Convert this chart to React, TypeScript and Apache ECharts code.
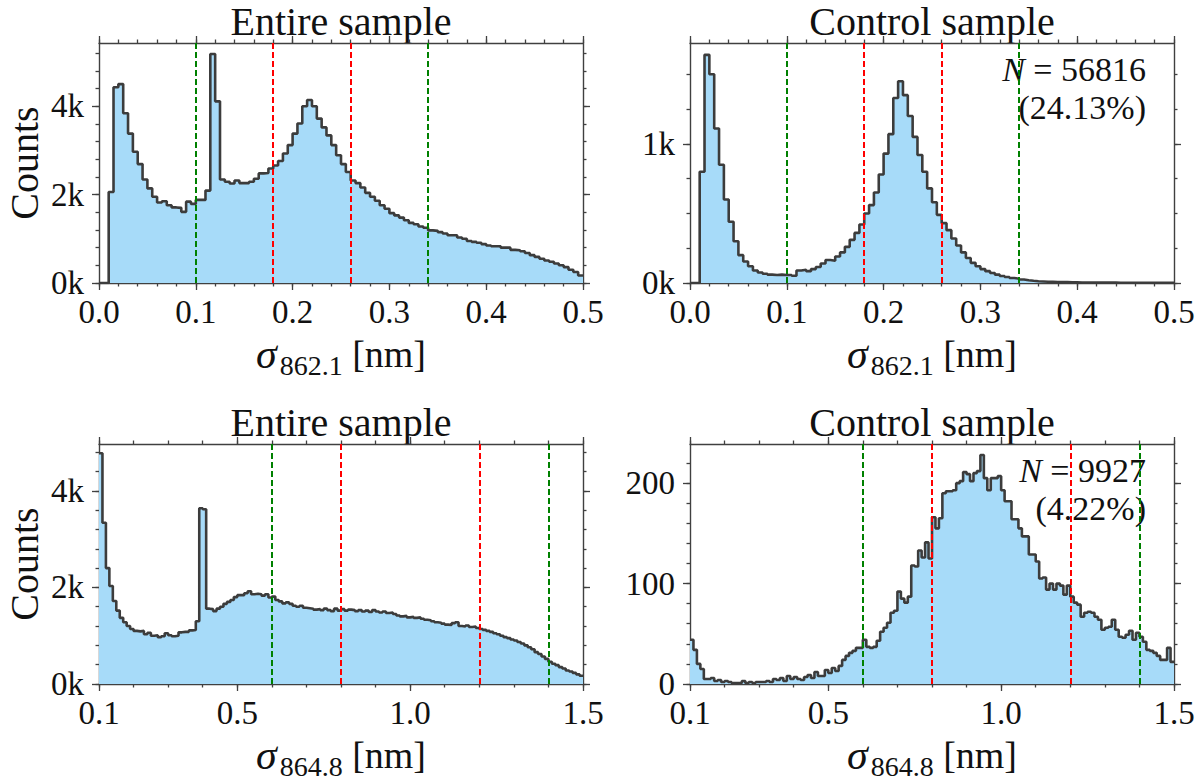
import React, { useEffect, useRef } from "react";
import * as echarts from "echarts";

// histogram bins
const topBinStart = 0;
const topBinWidth = 0.005;
const bottomBinStart = 0.1;
const bottomBinWidth = 0.01;

// sigma 862.1, entire sample, counts in thousands (bins 0.000 .. 0.495)
const entire862 = [
  0, 0, 2.06, 4.43, 4.5, 3.84, 3.38, 2.97, 2.69, 2.34,
  2.14, 1.95, 1.82, 1.85, 1.76, 1.71, 1.7, 1.61, 1.84, 1.79,
  1.88, 1.88, 2.09, 5.18, 4.11, 2.34, 2.29, 2.25, 2.32, 2.26,
  2.26, 2.29, 2.36, 2.48, 2.49, 2.59, 2.66, 2.76, 2.93, 3.12,
  3.38, 3.61, 4.0, 4.14, 4.0, 3.72, 3.52, 3.34, 3.12, 2.89,
  2.69, 2.51, 2.32, 2.26, 2.16, 2.04, 1.95, 1.86, 1.76, 1.68,
  1.58, 1.53, 1.48, 1.42, 1.36, 1.33, 1.28, 1.25, 1.19, 1.18,
  1.15, 1.12, 1.08, 1.08, 1.03, 1.0, 0.95, 0.93, 0.91, 0.88,
  0.85, 0.83, 0.83, 0.8, 0.8, 0.75, 0.74, 0.72, 0.68, 0.63,
  0.59, 0.55, 0.51, 0.48, 0.44, 0.4, 0.36, 0.3, 0.25, 0.17,
];

// sigma 862.1, control sample, counts in thousands
const control862 = [
  0, 0, 0.8, 1.64, 1.5, 1.11, 0.85, 0.6, 0.44, 0.3,
  0.2, 0.155, 0.12, 0.09, 0.076, 0.067, 0.06, 0.058, 0.06, 0.057,
  0.058, 0.052, 0.09, 0.095, 0.085, 0.1, 0.115, 0.14, 0.165, 0.16,
  0.19, 0.22, 0.26, 0.31, 0.36, 0.42, 0.5, 0.56, 0.65, 0.78,
  0.93, 1.07, 1.33, 1.45, 1.35, 1.2, 1.05, 0.92, 0.8, 0.68,
  0.58, 0.49, 0.43, 0.38, 0.32, 0.27, 0.22, 0.18, 0.145, 0.12,
  0.1, 0.085, 0.072, 0.06, 0.05, 0.043, 0.036, 0.031, 0.025, 0.02,
  0.016, 0.013, 0.011, 0.009, 0.008, 0.007, 0.006, 0.006, 0.005, 0.005,
  0.004, 0.004, 0.004, 0.003, 0.003, 0.003, 0.003, 0.003, 0.002, 0.002,
  0.002, 0.002, 0.002, 0.002, 0.002, 0.001, 0.002, 0.001, 0.001, 0.001,
];

// sigma 864.8, entire sample, counts in thousands (bins 0.10 .. 1.49)
const entire864 = [
  4.78, 3.34, 2.4, 2.03, 1.72, 1.52, 1.37, 1.28, 1.2, 1.14,
  1.1, 1.09, 1.1, 1.03, 1.06, 1.0, 1.01, 0.97, 0.99, 1.05,
  1.01, 0.99, 1.0, 1.07, 1.08, 1.08, 1.11, 1.12, 1.3, 3.64,
  3.62, 1.56, 1.55, 1.51, 1.56, 1.6, 1.66, 1.7, 1.74, 1.8,
  1.84, 1.84, 1.88, 1.92, 1.86, 1.87, 1.86, 1.83, 1.86, 1.79,
  1.81, 1.74, 1.71, 1.67, 1.69, 1.66, 1.62, 1.6, 1.62, 1.58,
  1.57, 1.56, 1.54, 1.55, 1.53, 1.56, 1.53, 1.51, 1.56, 1.52,
  1.55, 1.52, 1.54, 1.53, 1.51, 1.53, 1.5, 1.52, 1.49, 1.53,
  1.5, 1.48, 1.5, 1.47, 1.48, 1.45, 1.42, 1.4, 1.41, 1.38,
  1.39, 1.37, 1.38, 1.35, 1.33, 1.32, 1.3, 1.28, 1.27, 1.25,
  1.23, 1.22, 1.26, 1.28, 1.2, 1.19, 1.21, 1.18, 1.19, 1.16,
  1.14, 1.12, 1.1, 1.08, 1.05, 1.03, 1.0, 0.97, 0.95, 0.92,
  0.9, 0.87, 0.84, 0.8, 0.76, 0.72, 0.66, 0.62, 0.57, 0.52,
  0.46, 0.42, 0.39, 0.35, 0.32, 0.28, 0.26, 0.23, 0.2, 0.17,
];

// sigma 864.8, control sample, counts
const control864 = [
  44, 34, 20, 15, 5, 5, 6, 3, 4, 2,
  3, 2, 1, 1, 1, 3, 1, 2, 1, 2,
  2, 2, 3, 2, 5, 4, 6, 3, 8, 5,
  7, 5, 4, 7, 9, 6, 12, 8, 8, 14,
  11, 16, 13, 18, 24, 28, 31, 33, 36, 36,
  44, 37, 36, 37, 43, 52, 56, 61, 71, 73,
  92, 85, 81, 87, 118, 117, 133, 126, 141, 125,
  166, 155, 165, 190, 192, 192, 193, 200, 202, 211,
  209, 202, 210, 212, 228, 205, 193, 205, 205, 207,
  193, 182, 182, 164, 164, 155, 147, 147, 129, 129,
  122, 105, 106, 94, 100, 94, 100, 98, 89, 98,
  87, 81, 79, 67, 71, 72, 71, 67, 64, 54,
  56, 57, 64, 54, 47, 46, 49, 53, 44, 51,
  47, 42, 34, 33, 31, 28, 24, 24, 36, 22,
];

// dashed reference lines
const topGreen = [0.1, 0.34];
const topRed = [0.18, 0.26];
const bottomGreen = [0.6, 1.4];
const bottomRed = [0.8, 1.2];

// tick labels
const topXTicks = [0, 0.1, 0.2, 0.3, 0.4, 0.5];
const bottomXTicks = [0.1, 0.5, 1.0, 1.5];
const kTicks = [0, 2, 4];
const kTicksControl = [0, 1];
const countTicks = [0, 100, 200];

const FONT = "Liberation Serif";
const INK = "#111";
const FRAME = "#404040";
const EDGE = "#3c3c3c";
const FILL = "#a7dbf9";
const GREEN = "#008000";
const RED = "#ff0000";

function steps(from: number, to: number, step: number) {
  const out: number[] = [];
  const n = Math.round((to - from) / step);
  for (let i = 0; i <= n; i++) out.push(+(from + i * step).toFixed(4));
  return out;
}

function histPoints(values: number[], start: number, width: number) {
  const pts = values.map((v, i) => [+(start + i * width).toFixed(4), v]);
  pts.push([+(start + values.length * width).toFixed(4), values[values.length - 1]]);
  return pts;
}

const panels = [
  {
    left: 99, top: 43, title: "Entire sample", sub: "862.1",
    values: entire862, start: topBinStart, width: topBinWidth,
    xMin: 0, xMax: 0.5, xMajor: topXTicks, xMinor: steps(0, 0.5, 0.02),
    yMax: 5.43, yMajor: kTicks, yMinor: steps(0, 5.2, 0.4), yFmt: (v: number) => v + "k",
    counts: true, green: topGreen, red: topRed, note: null as null | string[],
  },
  {
    left: 690, top: 43, title: "Control sample", sub: "862.1",
    values: control862, start: topBinStart, width: topBinWidth,
    xMin: 0, xMax: 0.5, xMajor: topXTicks, xMinor: steps(0, 0.5, 0.02),
    yMax: 1.725, yMajor: kTicksControl, yMinor: steps(0, 1.5, 0.25), yFmt: (v: number) => v + "k",
    counts: false, green: topGreen, red: topRed, note: ["56816", "(24.13%)"],
  },
  {
    left: 99, top: 444, title: "Entire sample", sub: "864.8",
    values: entire864, start: bottomBinStart, width: bottomBinWidth,
    xMin: 0.1, xMax: 1.5, xMajor: bottomXTicks, xMinor: steps(0.1, 1.5, 0.1),
    yMax: 4.97, yMajor: kTicks, yMinor: steps(0, 4.8, 0.4), yFmt: (v: number) => v + "k",
    counts: true, green: bottomGreen, red: bottomRed, note: null,
  },
  {
    left: 690, top: 444, title: "Control sample", sub: "864.8",
    values: control864, start: bottomBinStart, width: bottomBinWidth,
    xMin: 0.1, xMax: 1.5, xMajor: bottomXTicks, xMinor: steps(0.1, 1.5, 0.1),
    yMax: 239, yMajor: countTicks, yMinor: steps(0, 220, 20), yFmt: (v: number) => String(v),
    counts: false, green: bottomGreen, red: bottomRed, note: ["9927", "(4.22%)"],
  },
];

const PW = 484;
const PH = 240;

function buildOption(): any {
  const grid: any[] = [];
  const xAxis: any[] = [];
  const yAxis: any[] = [];
  const series: any[] = [];
  const graphic: any[] = [];
  const lineStyle = { color: FRAME, width: 1.4 };
  const tickStyle = { color: FRAME, width: 1.3 };

  panels.forEach((p, i) => {
    grid.push({ left: p.left, top: p.top, width: PW, height: PH, containLabel: false, outerBoundsMode: "none" });

    const xBase = {
      type: "value", gridIndex: i, min: p.xMin, max: p.xMax,
      splitLine: { show: false }, axisLabel: { show: false },
    };
    const yBase = {
      type: "value", gridIndex: i, min: 0, max: p.yMax,
      splitLine: { show: false }, axisLabel: { show: false },
    };
    const major = (vals: number[]) => ({ show: true, customValues: vals, length: 7, lineStyle: tickStyle });
    const minor = (vals: number[]) => ({ show: true, customValues: vals, length: 3.5, lineStyle: tickStyle });

    xAxis.push({
      ...xBase, position: "bottom",
      axisLine: { show: true, onZero: false, lineStyle },
      axisTick: major(p.xMajor),
      axisLabel: {
        show: true, customValues: p.xMajor, formatter: (v: number) => v.toFixed(1),
        margin: 12, fontFamily: FONT, fontSize: 33, color: INK,
      },
      name: `{s|σ}{b|${p.sub}}{u| [nm]}`,
      nameLocation: "middle", nameGap: 46,
      nameTextStyle: {
        fontFamily: FONT, fontSize: 38, color: INK, lineHeight: 50,
        rich: {
          s: { fontFamily: FONT, fontStyle: "italic", fontSize: 42, lineHeight: 50, color: INK },
          b: { fontFamily: FONT, fontSize: 28, lineHeight: 34, verticalAlign: "bottom", color: INK, padding: [0, 0, 0, 3] },
          u: { fontFamily: FONT, fontSize: 38, lineHeight: 50, color: INK },
        },
      },
    });
    xAxis.push({ ...xBase, position: "top", axisLine: { show: true, onZero: false, lineStyle }, axisTick: major(p.xMajor) });
    xAxis.push({ ...xBase, position: "bottom", axisLine: { show: false, onZero: false }, axisTick: minor(p.xMinor) });
    xAxis.push({ ...xBase, position: "top", axisLine: { show: false, onZero: false }, axisTick: minor(p.xMinor) });

    yAxis.push({
      ...yBase, position: "left",
      axisLine: { show: true, onZero: false, lineStyle },
      axisTick: major(p.yMajor),
      axisLabel: {
        show: true, customValues: p.yMajor, formatter: p.yFmt,
        margin: 15, fontFamily: FONT, fontSize: 33, color: INK,
      },
      name: p.counts ? "Counts" : "",
      nameLocation: "middle", nameGap: 55, nameRotate: 90,
      nameTextStyle: { fontFamily: FONT, fontSize: 40, lineHeight: 40, color: INK },
    });
    yAxis.push({ ...yBase, position: "right", axisLine: { show: true, onZero: false, lineStyle }, axisTick: major(p.yMajor) });
    yAxis.push({ ...yBase, position: "left", axisLine: { show: false, onZero: false }, axisTick: minor(p.yMinor) });
    yAxis.push({ ...yBase, position: "right", axisLine: { show: false, onZero: false }, axisTick: minor(p.yMinor) });

    const dash = (v: number, color: string) => ({
      xAxis: v, lineStyle: { color, type: [6, 3], width: 2 },
    });
    series.push({
      type: "line", xAxisIndex: i * 4, yAxisIndex: i * 4,
      data: histPoints(p.values, p.start, p.width),
      step: "end", symbol: "none", silent: true,
      lineStyle: { color: EDGE, width: 2.6 },
      areaStyle: { color: FILL, opacity: 1 },
      markLine: {
        silent: true, symbol: ["none", "none"], label: { show: false },
        data: [...p.green.map((v) => dash(v, GREEN)), ...p.red.map((v) => dash(v, RED))],
      },
    });

    graphic.push({
      type: "text", x: p.left + PW / 2, y: p.top - 22,
      style: {
        text: p.title, fontFamily: FONT, fontSize: 40, fill: INK,
        align: "center", verticalAlign: "middle",
      },
    });
    if (p.note) {
      graphic.push({
        type: "text", x: p.left + PW - 28, y: p.top + 7,
        style: {
          text: `{i|N}{t| = ${p.note[0]}}\n{t|${p.note[1]}}`,
          fontFamily: FONT, fontSize: 33, fill: INK, lineHeight: 38,
          align: "right", verticalAlign: "top",
          rich: {
            i: { fontFamily: FONT, fontStyle: "italic", fontSize: 34, fill: INK, lineHeight: 38 },
            t: { fontFamily: FONT, fontSize: 34, fill: INK, lineHeight: 38 },
          },
        },
      });
    }
  });

  return { animation: false, backgroundColor: "#fff", grid, xAxis, yAxis, series, graphic };
}

export default function App() {
  const chartRef = useRef<HTMLDivElement>(null);

  useEffect(() => {
    document.body.style.margin = "0";
    const chart = echarts.init(chartRef.current, null, { renderer: "svg" });
    chart.setOption(buildOption());
    return () => {
      chart.dispose();
    };
  }, []);

  return <div ref={chartRef} style={{ width: 1200, height: 783 }}></div>;
}
